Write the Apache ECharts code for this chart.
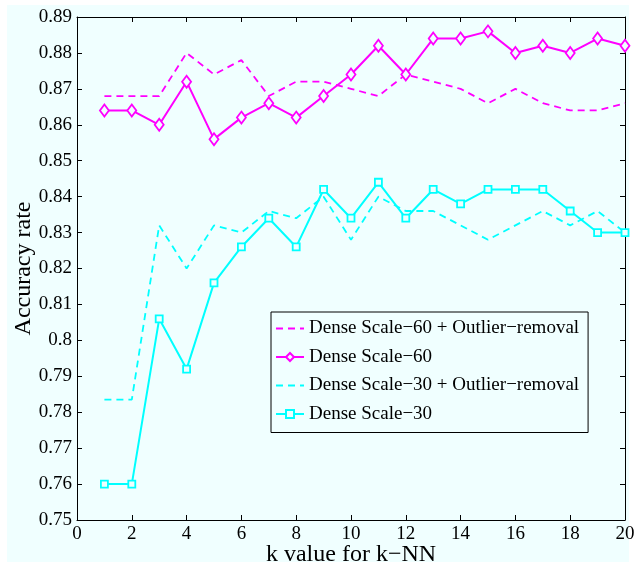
<!DOCTYPE html>
<html>
<head>
<meta charset="utf-8">
<script src="https://cdn.jsdelivr.net/npm/echarts@6/dist/echarts.min.js"></script>
<style>
  html, body { margin: 0; padding: 0; background: #fff; }
  #chart { width: 634px; height: 564px; }
</style>
</head>
<body>
<div id="chart"></div>
<script>
// k values for k-NN
const kValues = [1, 2, 3, 4, 5, 6, 7, 8, 9, 10, 11, 12, 13, 14, 15, 16, 17, 18, 19, 20]

const scale60Outlier = [0.868, 0.868, 0.868, 0.880, 0.874, 0.878, 0.868, 0.872, 0.872, 0.870,
  0.868, 0.874, 0.872, 0.870, 0.866, 0.870, 0.866, 0.864, 0.864, 0.866]
const scale60 = [0.864, 0.864, 0.860, 0.872, 0.856, 0.862, 0.866, 0.862, 0.868, 0.874,
  0.882, 0.874, 0.884, 0.884, 0.886, 0.880, 0.882, 0.880, 0.884, 0.882]
const scale30Outlier = [0.7835, 0.7835, 0.832, 0.820, 0.832, 0.830, 0.836, 0.834, 0.840, 0.828,
  0.840, 0.836, 0.836, 0.832, 0.828, 0.832, 0.836, 0.832, 0.836, 0.830]
const scale30 = [0.760, 0.760, 0.806, 0.792, 0.816, 0.826, 0.834, 0.826, 0.842, 0.834,
  0.844, 0.834, 0.842, 0.838, 0.842, 0.842, 0.842, 0.836, 0.830, 0.830]

const legendNames = [
  'Dense Scale\u221260 + Outlier\u2212removal',
  'Dense Scale\u221260',
  'Dense Scale\u221230 + Outlier\u2212removal',
  'Dense Scale\u221230'
]

const MAGENTA = '#ff00ff'
const CYAN = '#00ffff'
const BG = '#f0ffff'
const FONT = '"Liberation Serif", "Times New Roman", serif'

function pairs (ys) {
  return kValues.map((k, i) => [k, ys[i]])
}

function yLabel (v) {
  return String(parseFloat(v.toFixed(2)))
}

const chart = echarts.init(document.getElementById('chart'), null, { renderer: 'canvas' })

const tickStyle = { show: true, inside: true, length: 5, lineStyle: { color: '#000', width: 1 } }
const lineAxis = { show: true, onZero: false, lineStyle: { color: '#000', width: 1 } }

let option = {
  backgroundColor: '#fff',
  animation: false,
  graphic: [{
    type: 'rect',
    z: -10,
    silent: true,
    shape: { x: 7, y: 5, width: 622, height: 557 },
    style: { fill: BG }
  }],
  grid: { left: 77, right: 9, top: 17, bottom: 44, containLabel: false, outerBoundsMode: 'none' },
  legend: {
    orient: 'vertical',
    left: 271,
    top: 312,
    width: 317,
    padding: [7, 9, 9, 4],
    itemWidth: 28,
    itemHeight: 10,
    itemGap: 9.5,
    borderColor: '#000',
    borderWidth: 1,
    backgroundColor: BG,
    textStyle: { fontFamily: FONT, fontSize: 19, color: '#000', lineHeight: 19 },
    data: [
      { name: legendNames[0], itemStyle: { opacity: 0 } },
      { name: legendNames[1] },
      { name: legendNames[2], itemStyle: { opacity: 0 } },
      { name: legendNames[3] }
    ]
  },
  xAxis: [{
    type: 'value',
    min: 0,
    max: 20,
    interval: 2,
    name: 'k value for k\u2212NN',
    nameLocation: 'middle',
    nameGap: 23,
    nameMoveOverlap: false,
    nameTextStyle: { fontFamily: FONT, fontSize: 24, color: '#000' },
    axisLine: lineAxis,
    axisTick: tickStyle,
    axisLabel: { fontFamily: FONT, fontSize: 19, color: '#000', margin: 5 },
    splitLine: { show: false }
  }, {
    type: 'value',
    position: 'top',
    min: 0,
    max: 20,
    interval: 2,
    axisLine: lineAxis,
    axisTick: tickStyle,
    axisLabel: { show: false },
    splitLine: { show: false }
  }],
  yAxis: [{
    type: 'value',
    min: 0.75,
    max: 0.89,
    interval: 0.01,
    name: 'Accuracy rate',
    nameLocation: 'middle',
    nameGap: 41,
    nameMoveOverlap: false,
    nameTextStyle: { fontFamily: FONT, fontSize: 24, color: '#000' },
    axisLine: lineAxis,
    axisTick: tickStyle,
    axisLabel: { fontFamily: FONT, fontSize: 19, color: '#000', margin: 5, formatter: yLabel },
    splitLine: { show: false }
  }, {
    type: 'value',
    position: 'right',
    min: 0.75,
    max: 0.89,
    interval: 0.01,
    axisLine: lineAxis,
    axisTick: tickStyle,
    axisLabel: { show: false },
    splitLine: { show: false }
  }],
  series: [
    {
      name: legendNames[0],
      type: 'line',
      data: pairs(scale60Outlier),
      showSymbol: false,
      symbol: 'none',
      lineStyle: { color: MAGENTA, width: 1.8, type: [7, 5] },
      itemStyle: { color: MAGENTA }
    },
    {
      name: legendNames[1],
      type: 'line',
      data: pairs(scale60),
      symbol: 'diamond',
      symbolSize: [9, 12],
      lineStyle: { color: MAGENTA, width: 2 },
      itemStyle: { color: BG, borderColor: MAGENTA, borderWidth: 1.8 },
      z: 3
    },
    {
      name: legendNames[2],
      type: 'line',
      data: pairs(scale30Outlier),
      showSymbol: false,
      symbol: 'none',
      lineStyle: { color: CYAN, width: 1.8, type: [7, 5] },
      itemStyle: { color: CYAN }
    },
    {
      name: legendNames[3],
      type: 'line',
      data: pairs(scale30),
      symbol: 'rect',
      symbolSize: 7,
      lineStyle: { color: CYAN, width: 2 },
      itemStyle: { color: BG, borderColor: CYAN, borderWidth: 1.8 },
      z: 3
    }
  ]
}

chart.setOption(option)
</script>
</body>
</html>
